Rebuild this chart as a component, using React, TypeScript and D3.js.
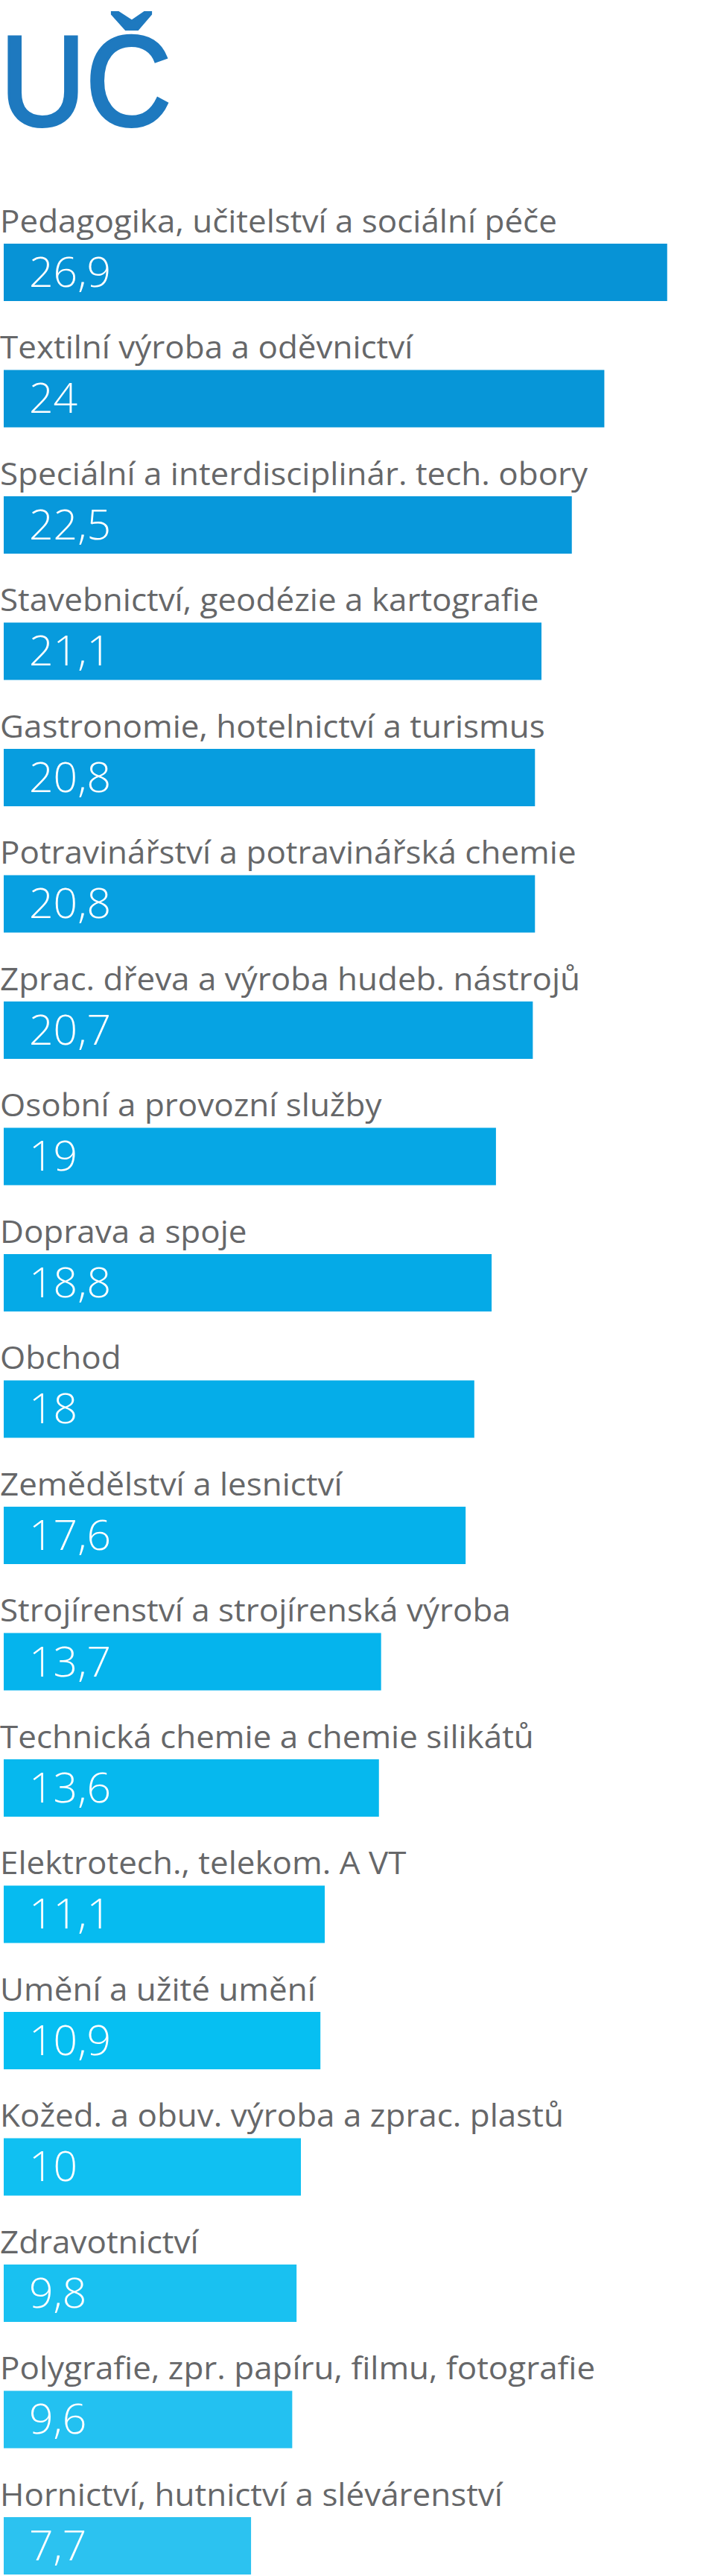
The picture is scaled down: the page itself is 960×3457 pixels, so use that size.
import React, { useLayoutEffect, useRef, useState } from "react";
import * as d3 from "d3";

const title = "UČ";

const categories = [
  "Pedagogika, učitelství a sociální péče",
  "Textilní výroba a oděvnictví",
  "Speciální a interdisciplinár. tech. obory",
  "Stavebnictví, geodézie a kartografie",
  "Gastronomie, hotelnictví a turismus",
  "Potravinářství a potravinářská chemie",
  "Zprac. dřeva a výroba hudeb. nástrojů",
  "Osobní a provozní služby",
  "Doprava a spoje",
  "Obchod",
  "Zemědělství a lesnictví",
  "Strojírenství a strojírenská výroba",
  "Technická chemie a chemie silikátů",
  "Elektrotech., telekom. A VT",
  "Umění a užité umění",
  "Kožed. a obuv. výroba a zprac. plastů",
  "Zdravotnictví",
  "Polygrafie, zpr. papíru, filmu, fotografie",
  "Hornictví, hutnictví a slévárenství",
];

const values = [26.9, 24, 22.5, 21.1, 20.8, 20.8, 20.7, 19, 18.8, 18, 17.6, 13.7, 13.6, 11.1, 10.9, 10, 9.8, 9.6, 7.7];

const colorStops = ["#0793d6", "#079ddf", "#05ade9", "#06bff2", "#2cc2f0"];

const W = 960;
const H = 3457;

export default function App() {
  const labelRef = useRef<SVGTextElement>(null);
  const valueRef = useRef<SVGTextElement>(null);
  const titleRef = useRef<SVGTextElement>(null);
  const [sx, setSx] = useState({ label: 1, value: 1, title: 1 });

  useLayoutEffect(() => {
    const lw = labelRef.current ? labelRef.current.getComputedTextLength() : 0;
    const vw = valueRef.current ? valueRef.current.getComputedTextLength() : 0;
    const tw = titleRef.current ? titleRef.current.getComputedTextLength() : 0;
    setSx({
      label: lw ? 748 / lw : 1,
      value: vw ? 110 / vw : 1,
      title: tw ? 230 / tw : 1,
    });
  }, []);

  const x = d3.scaleLinear().domain([0, 30]).range([113, 986]);
  const y = d3
    .scaleBand<string>()
    .domain(categories)
    .range([327, 327 + categories.length * 169.5])
    .paddingInner(0)
    .paddingOuter(0);
  const barH = 77;
  const n = categories.length;
  const color = d3
    .scaleLinear<string>()
    .domain([0, 4, 9, 14, n - 1])
    .range(colorStops);
  const fmt = (v: number) => String(v).replace(".", ",");
  const x0 = 5;

  return (
    <svg
      width={W}
      height={H}
      style={{ position: "absolute", left: 0, top: 0, background: "#fff" }}
    >
      <text
        ref={titleRef}
        x={0}
        y={168}
        transform={`scale(${sx.title},1)`}
        fontFamily="'Liberation Sans', Arial, sans-serif"
        fontSize={172}
        fill="#1e79bf"
        stroke="#1e79bf"
        strokeWidth={4}
      >
        {title}
      </text>
      {categories.map((c, i) => {
        const top = y(c) as number;
        return (
          <g key={c}>
            <text
              ref={i === 0 ? labelRef : undefined}
              x={0}
              y={top - 15}
              transform={`scale(${sx.label},1)`}
              fontFamily="'Open Sans', sans-serif"
              fontSize={42}
              fill="#666769"
            >
              {c}
            </text>
            <rect
              x={x0}
              y={top}
              width={x(values[i]) - x0}
              height={barH}
              fill={color(i)}
            />
            <text
              ref={i === 0 ? valueRef : undefined}
              x={0}
              y={top + 58}
              transform={`translate(39,0) scale(${sx.value},1)`}
              fontFamily="'Open Sans', sans-serif"
              fontWeight={300}
              fontSize={56}
              fill="#ffffff"
            >
              {fmt(values[i])}
            </text>
          </g>
        );
      })}
    </svg>
  );
}
